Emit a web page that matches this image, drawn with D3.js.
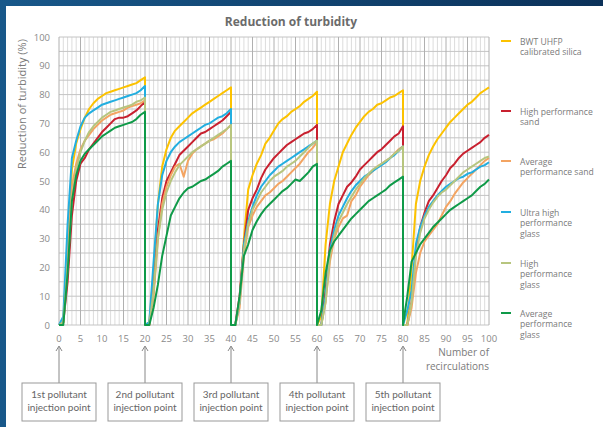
<!DOCTYPE html>
<html>
<head>
<meta charset="utf-8">
<script src="https://cdn.jsdelivr.net/npm/d3@7"></script>
<style>
  body { margin: 0; }
  svg { display: block; font-family: "Open Sans", sans-serif; }
</style>
</head>
<body>
<svg id="chart" width="603" height="427"></svg>
<script>
// one array of 21 readings (t = 0..20 recirculations) per injection cycle
const cycleStarts = [0, 20, 40, 60, 80];

const bwtSilica = [
    [0, 1, 28, 54, 63, 68, 72, 75, 77, 78.5, 79.5, 80.5, 81, 81.5, 82, 82.5, 83, 83.5, 84, 85, 86],
    [0, 1, 18, 42, 55, 61, 65, 67.5, 69, 70.5, 72, 73.5, 74.5, 75.5, 76.5, 77.5, 78.5, 79.5, 80.5, 81.5, 82.5],
    [0, 0, 8, 30, 47, 52, 56, 59, 63, 65, 67.5, 70, 71.5, 72.5, 74, 75, 76, 77.5, 78.5, 79.5, 81],
    [0, 3, 28, 42, 50, 55, 60, 63, 66, 68.5, 70.5, 72.5, 74, 75, 76.5, 77, 78, 79, 79.5, 80.5, 81.5],
    [0, 0, 20, 42, 50, 55, 59, 62, 64.5, 66.5, 68.5, 70.5, 72, 73.5, 75, 76.5, 77.5, 79, 80.5, 81.5, 82.5]
];
const highSand = [
    [0, 1, 15, 38, 50, 56, 58, 61, 63, 65, 67, 68.5, 70, 71.5, 72, 72, 72.5, 73.5, 74.5, 76, 77.5],
    [0, 0, 12, 33, 44, 50, 53, 56, 59, 60.5, 62, 63.5, 65, 66.5, 67, 68, 69, 70, 71, 72.5, 74],
    [0, 0, 10, 28, 40, 44, 47, 51, 54, 56, 58, 59.5, 61, 62.5, 63.5, 64.5, 65.5, 66.5, 67, 68, 69.5],
    [0, 0, 12, 28, 36, 42, 45, 48, 49.5, 51.5, 54, 55.5, 57, 58.5, 60, 61, 62.5, 64, 65.5, 66.5, 69],
    [0, 0, 8, 26, 34, 39, 43, 45, 47.5, 50, 52, 54.5, 56, 58, 59.5, 60.5, 61.5, 62.5, 63.5, 65, 66]
];
const averageSand = [
    [0, 1, 25, 48, 56, 61, 64, 66, 68, 69.5, 71, 72, 73, 73.5, 74, 74.5, 75.5, 76, 76.5, 77, 78],
    [0, 0, 10, 30, 42, 48, 52, 55, 56, 51.5, 57, 59.5, 61, 62, 63, 64, 64.5, 65.5, 66.5, 68, 69.5],
    [0, 0, 6, 24, 34, 38, 41, 43, 45, 46, 47.5, 49, 50, 51.5, 53, 54.5, 56, 58, 60, 61.5, 63.5],
    [0, 0, 8, 22, 30, 34, 37, 38, 43, 45, 48, 50, 52, 53.5, 55, 56, 57, 58, 59.5, 61, 62],
    [0, 0, 6, 18, 25, 29, 31, 33, 35, 38, 41, 43, 45.5, 47.5, 49.5, 51, 52.5, 54, 55.5, 57, 58]
];
const ultraHighGlass = [
    [0, 3, 35, 58, 64, 69, 72, 73.5, 74.5, 75.5, 76.5, 77, 77.5, 78, 78.5, 79, 79.5, 80, 80.5, 81.5, 83],
    [0, 1, 22, 42, 52, 57, 60, 62, 63.5, 64.5, 65.5, 66.5, 67.5, 68.5, 69.5, 70, 71, 72, 72.5, 73.5, 75],
    [0, 0, 8, 28, 36, 41, 45, 48, 50, 52, 53.5, 55, 56, 57, 58, 59, 60, 61, 62, 63, 64],
    [0, 0, 10, 26, 33, 38, 41, 44, 46.5, 48.5, 50, 51.5, 52.5, 53.5, 54.5, 55.5, 56.5, 58, 59, 60.5, 62],
    [0, 5, 12, 28, 34, 38, 41, 43, 45, 46.5, 48, 49, 50, 51, 51.5, 52.5, 53, 54, 55, 55.5, 56.5]
];
const highGlass = [
    [0, 1, 20, 44, 54, 60, 64, 67, 69, 70.5, 72, 73, 74, 74.5, 75, 75.5, 76, 76.5, 77.5, 78, 79],
    [0, 0, 12, 30, 40, 46, 50, 53, 55.5, 57, 58.5, 60, 61, 62, 63, 64, 65, 66, 67, 68, 69.5],
    [0, 0, 8, 26, 35, 40, 43, 46, 48, 50, 51.5, 52.5, 53.5, 55, 56, 57, 58.5, 60, 61.5, 63, 64],
    [0, 0, 8, 24, 31, 36, 39, 42, 44.5, 47, 49, 51, 52.5, 54, 55, 56, 57, 58, 59.5, 60.5, 62],
    [0, 0, 8, 24, 32, 37, 40, 42.5, 44.5, 46, 47, 48.5, 50, 51.5, 53, 54, 55, 56, 57, 58, 58.5]
];
const averageGlass = [
    [0, 0, 18, 43, 52, 57, 59.5, 61, 62.5, 64, 65.5, 66.5, 67.5, 68.5, 69, 69.5, 70, 70.5, 71.5, 73, 74],
    [0, 0, 6, 14, 24, 31, 38, 41, 44, 46, 47.5, 48, 49, 50, 50.5, 51.5, 52.5, 53.5, 55, 56, 57],
    [0, 0, 10, 24, 28, 33, 36, 38.5, 40.5, 42, 43.5, 45, 46.5, 47.5, 49, 50.5, 50, 51.5, 53, 55, 56],
    [0, 5, 18, 26, 29, 31, 33, 35, 37, 38.5, 40, 41.5, 43, 44, 45, 46, 47, 48.5, 49.5, 50.5, 51.5],
    [0, 10, 22, 25, 28, 30, 32, 34, 35.5, 37, 38.5, 40, 41, 42, 43, 44, 45, 46.5, 48, 49, 50.5]
];

const seriesData = [bwtSilica, highSand, averageSand, ultraHighGlass, highGlass, averageGlass];
const seriesLabels = [
    ["BWT UHFP", "calibrated silica"],
    ["High performance", "sand"],
    ["Average", "performance sand"],
    ["Ultra high", "performance", "glass"],
    ["High", "performance", "glass"],
    ["Average", "performance", "glass"]
];
const seriesColors = ["#fcc200", "#c8202f", "#f3a462", "#22aee0", "#b7c57e", "#0f9a48"];
const legendY = [41, 111, 161, 212, 263, 313];

const xTicks = d3.range(0, 101, 5);
const yTicks = d3.range(0, 101, 10);
const injectionLabels = ["1st", "2nd", "3rd", "4th", "5th"];

const svg = d3.select("#chart");

// dark blue frame on top and left
const defs = svg.append("defs");
const grad = defs.append("linearGradient").attr("id", "frame")
    .attr("x1", "0").attr("x2", "1").attr("y1", "0").attr("y2", "0");
grad.append("stop").attr("offset", "0").attr("stop-color", "#18588a");
grad.append("stop").attr("offset", "1").attr("stop-color", "#0b3159");
svg.append("rect").attr("width", 603).attr("height", 427).attr("fill", "url(#frame)");
svg.append("rect").attr("x", 6).attr("y", 6).attr("width", 597).attr("height", 421).attr("fill", "#fff");

const x = d3.scaleLinear().domain([0, 100]).range([59, 489]);
const y = d3.scaleLinear().domain([0, 100]).range([325, 37]);

// grid
const grid = svg.append("g");
grid.selectAll("line.minor")
    .data(d3.range(0, 101).filter(d => d % 5 !== 0))
    .enter().append("line")
    .attr("x1", d => x(d)).attr("x2", d => x(d))
    .attr("y1", y(0)).attr("y2", y(100))
    .attr("stroke", "#dcdcdc").attr("stroke-width", 1);
grid.selectAll("line.hz")
    .data(d3.range(0, 101, 5))
    .enter().append("line")
    .attr("x1", x(0)).attr("x2", x(100))
    .attr("y1", d => y(d)).attr("y2", d => y(d))
    .attr("stroke", "#c4c4c4").attr("stroke-width", 1);
grid.selectAll("line.major")
    .data(xTicks)
    .enter().append("line")
    .attr("x1", d => x(d)).attr("x2", d => x(d))
    .attr("y1", y(0)).attr("y2", y(100))
    .attr("stroke", "#b0b0b0").attr("stroke-width", 1);

// axes labels
svg.append("g").selectAll("text")
    .data(yTicks).enter().append("text")
    .attr("x", 50).attr("y", d => y(d) + 3.5)
    .attr("text-anchor", "end")
    .attr("font-size", 9.5).attr("fill", "#8a8a8a")
    .text(d => d);

svg.append("g").selectAll("text")
    .data(xTicks).enter().append("text")
    .attr("x", d => x(d)).attr("y", 342)
    .attr("text-anchor", "middle")
    .attr("font-size", 9.5).attr("fill", "#8a8a8a")
    .text(d => d);

svg.append("text")
    .attr("transform", "translate(26,104) rotate(-90)")
    .attr("text-anchor", "middle")
    .attr("font-size", 11).attr("fill", "#7a7a7a")
    .text("Reduction of turbidity (%)");

svg.append("text")
    .attr("x", 291).attr("y", 26)
    .attr("text-anchor", "middle")
    .attr("font-size", 12).attr("font-weight", "bold").attr("fill", "#6b6b6b")
    .text("Reduction of turbidity");

svg.append("text")
    .attr("x", 489).attr("y", 356)
    .attr("text-anchor", "end")
    .attr("font-size", 10).attr("fill", "#7a7a7a")
    .selectAll("tspan").data(["Number of", "recirculations"]).enter().append("tspan")
    .attr("x", 489).attr("dy", (d, i) => i === 0 ? 0 : 14)
    .text(d => d);

// series lines
const line = d3.line().x(d => x(d[0])).y(d => y(d[1]));
seriesData.forEach((cycles, i) => {
    const pts = cycles.flatMap((vals, k) => vals.map((v, t) => [cycleStarts[k] + t, v]));
    svg.append("path")
        .attr("d", line(pts))
        .attr("fill", "none")
        .attr("stroke", seriesColors[i])
        .attr("stroke-width", 2)
        .attr("stroke-linejoin", "round");
});

// legend
const legend = svg.append("g");
seriesLabels.forEach((lines, i) => {
    legend.append("line")
        .attr("x1", 501).attr("x2", 511)
        .attr("y1", legendY[i]).attr("y2", legendY[i])
        .attr("stroke", seriesColors[i]).attr("stroke-width", 2);
    lines.forEach((txt, j) => {
        legend.append("text")
            .attr("x", 520).attr("y", legendY[i] + 3.5 + j * 10.5)
            .attr("font-size", 8.6).attr("fill", "#7a7a7a")
            .text(txt);
    });
});

// injection point callouts
const callouts = svg.append("g");
cycleStarts.forEach((c, i) => {
    const cx = x(c);
    callouts.append("line")
        .attr("x1", cx).attr("x2", cx).attr("y1", 347).attr("y2", 383)
        .attr("stroke", "#888").attr("stroke-width", 1);
    callouts.append("path")
        .attr("d", `M${cx - 3},${351} L${cx},${346} L${cx + 3},${351}`)
        .attr("fill", "none").attr("stroke", "#888").attr("stroke-width", 1);
    callouts.append("rect")
        .attr("x", cx - 37).attr("y", 383).attr("width", 74).attr("height", 38)
        .attr("fill", "#fff").attr("stroke", "#999").attr("stroke-width", 1);
    [`${injectionLabels[i]} pollutant`, "injection point"].forEach((txt, j) => {
        callouts.append("text")
            .attr("x", cx).attr("y", 398 + j * 13)
            .attr("text-anchor", "middle")
            .attr("font-family", "Lato, sans-serif")
            .attr("font-size", 10).attr("fill", "#666")
            .text(txt);
    });
});
</script>
</body>
</html>
